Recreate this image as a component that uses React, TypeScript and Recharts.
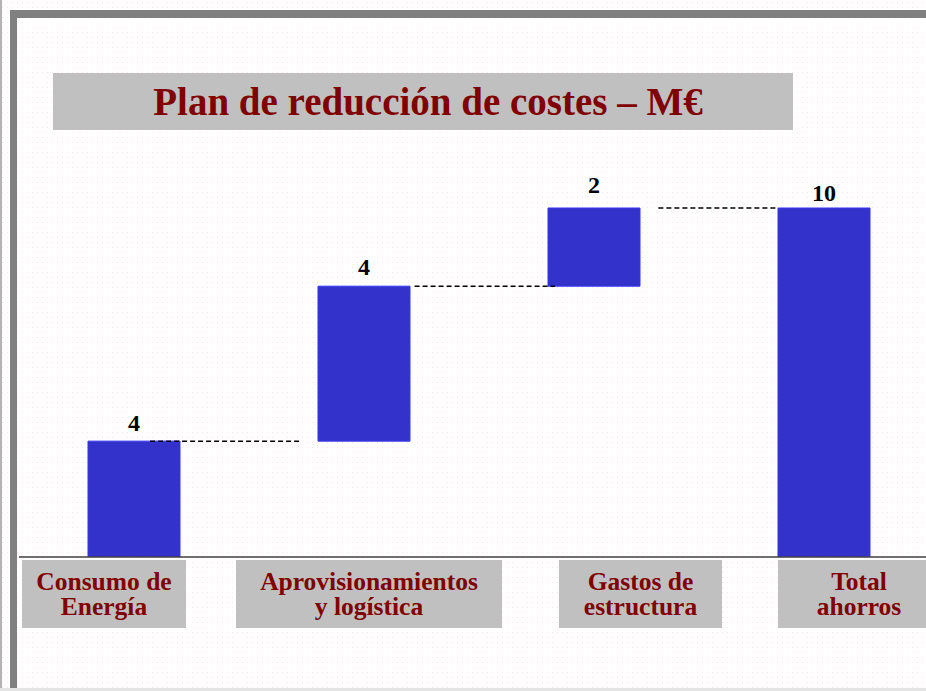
import React from 'react';
import { ComposedChart, Bar, XAxis, YAxis, ReferenceLine, LabelList } from 'recharts';

// ---- data ----
const categories = [
  ['Consumo de', 'Energía'],
  ['Aprovisionamientos', 'y logística'],
  ['Gastos de', 'estructura'],
  ['Total', 'ahorros'],
];
const steps = [3.32, 4.44, 2.24];
const totalValue = 10;
const valueLabels = ['4', '4', '2', '10'];
const title = 'Plan de reducción de costes – M€';

// ---- layout (not data) ----
const labelBoxes = [
  { l: -112, r: 52 },
  { l: -128, r: 138 },
  { l: -35, r: 128 },
  { l: -46, r: 116 },
];
const labelLift = [10, 11, 15, 7];
const connectorSpans = [
  [0.07, 0.73],
  [1.22, 1.83],
  [2.28, 2.8],
];

const SERIF = '"Liberation Serif", "Times New Roman", serif';

let running = 0;
const rows = steps.map((s, i) => {
  const base = running;
  running += s;
  return { name: 'c' + i, pos: i, base, delta: s, label: valueLabels[i] };
});
rows.push({ name: 'c3', pos: 3, base: 0, delta: totalValue, label: valueLabels[3] });

const levels: number[] = [];
{
  let c = 0;
  steps.forEach((s, i) => {
    c += s;
    levels.push(i === steps.length - 1 ? totalValue : c);
  });
}

const CategoryTick = (props: any) => {
  const { x, y, index } = props;
  const box = labelBoxes[index];
  const lines = categories[index];
  const cx = x + (box.l + box.r) / 2;
  return (
    <g>
      <rect x={x + box.l} y={y} width={box.r - box.l} height={68} fill="#C0C0C0" />
      <text
        textAnchor="middle"
        fontFamily={SERIF}
        fontWeight="bold"
        fontSize={25.5}
        fill="#800000"
      >
        <tspan x={cx} y={y + 29.5}>{lines[0]}</tspan>
        <tspan x={cx} y={y + 55}>{lines[1]}</tspan>
      </text>
    </g>
  );
};

const ValueLabel = (props: any) => {
  const { x, y, width, value, index } = props;
  return (
    <text
      x={x + width / 2}
      y={y - labelLift[index]}
      textAnchor="middle"
      fontFamily={SERIF}
      fontWeight="bold"
      fontSize={24}
      fill="#000"
    >
      {value}
    </text>
  );
};

export default function App() {
  return (
    <div
      style={{
        position: 'fixed',
        left: 0,
        top: 0,
        width: 926,
        height: 691,
        overflow: 'hidden',
        backgroundColor: '#ffffff',
        backgroundImage: 'radial-gradient(rgba(250,190,190,0.35) 0.7px, transparent 0.9px)',
        backgroundSize: '5px 5px',
      }}
    >
      <div style={{ position: 'absolute', left: 0, top: 0, width: 2, height: 691, background: '#b4b4b4' }} />
      <div
        style={{
          position: 'absolute',
          left: 10,
          top: 10,
          width: 940,
          height: 700,
          borderTop: '8px solid #808080',
          borderLeft: '7px solid #808080',
        }}
      />
      <div style={{ position: 'absolute', left: 0, top: 688, width: 926, height: 3, background: '#e4e4e4' }} />
      <div
        style={{
          position: 'absolute',
          left: 53,
          top: 73,
          width: 740,
          height: 57,
          background: '#C0C0C0',
          display: 'flex',
          alignItems: 'center',
          justifyContent: 'center',
          paddingLeft: 10,
          boxSizing: 'border-box',
          fontFamily: SERIF,
          fontWeight: 'bold',
          fontSize: 39,
          color: '#800000',
          whiteSpace: 'nowrap',
        }}
      >
        {title}
      </div>
      <div style={{ position: 'absolute', left: 0, top: 0 }}>
        <ComposedChart
          width={940}
          height={691}
          data={rows}
          margin={{ top: 138.2, right: 1, bottom: 0, left: 19 }}
        >
          <XAxis
            xAxisId="cat"
            dataKey="name"
            type="category"
            height={134}
            tickSize={0}
            tickMargin={3}
            tickLine={false}
            axisLine={{ stroke: '#404040', strokeWidth: 1.5 }}
            tick={<CategoryTick />}
            interval={0}
          />
          <XAxis
            xAxisId="num"
            dataKey="pos"
            type="number"
            domain={[-0.5, 3.5]}
            hide
            allowDataOverflow
            padding={{ left: 0, right: 0 }}
          />
          <YAxis hide domain={[0, 12]} allowDataOverflow />
          {connectorSpans.map((sp, i) => (
            <ReferenceLine
              key={i}
              xAxisId="num"
              segment={[
                { x: sp[0], y: levels[i] },
                { x: sp[1], y: levels[i] },
              ]}
              stroke="#000"
              strokeWidth={1.5}
              strokeDasharray="5 3"
              ifOverflow="visible"
            />
          ))}
          <Bar xAxisId="cat" dataKey="base" stackId="w" fill="transparent" barSize={92} isAnimationActive={false} />
          <Bar
            xAxisId="cat"
            dataKey="delta"
            stackId="w"
            fill="#3333CC"
            stroke="#3636F2"
            strokeWidth={1}
            barSize={92}
            isAnimationActive={false}
          >
            <LabelList dataKey="label" content={<ValueLabel />} />
          </Bar>
        </ComposedChart>
      </div>
    </div>
  );
}
